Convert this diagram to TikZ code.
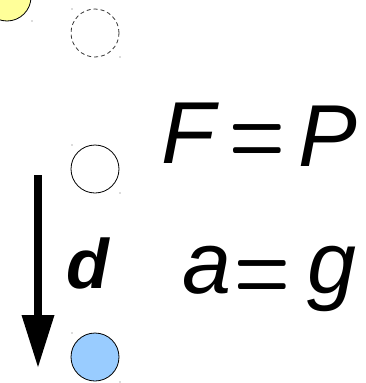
\documentclass[tikz,border=0pt]{standalone}
\usepackage{fontspec}
\newfontfamily\arialfont{Liberation Sans}
\definecolor{sunyellow}{HTML}{FFFF99}
\definecolor{ballblue}{HTML}{99CCFF}
\begin{document}
\begin{tikzpicture}[x=1pt,y=-1pt,
  ball/.style={circle,draw=black,line width=0.8pt,minimum size=48pt,inner sep=0pt},
  handle/.style={circle,fill=black!60,inner sep=0pt,minimum size=1.2pt},
  eq/.style={inner sep=0pt,anchor=base,font=\arialfont\fontsize{88}{88}\selectfont\itshape},
  eqsign/.style={inner sep=0pt,anchor=base,font=\rmfamily\bfseries\fontsize{106}{106}\selectfont},
]
\useasboundingbox (0,0) rectangle (366,383);
% balls
\node[ball,fill=sunyellow] (sun) at (7,-3) {};
\node[ball,draw=black!80,dashed,dash pattern=on 4pt off 3pt] (ghost) at (95,33) {};
\node[ball,fill=white] (start) at (95,169) {};
\node[ball,fill=ballblue] (end) at (95,357) {};
% selection handles
\node[handle] (h0) at (32,21) {};
\node[handle] (h1) at (72,9) {};
\node[handle] (h2) at (120,57) {};
\node[handle] (h3) at (72,145) {};
\node[handle] (h4) at (120,193) {};
\node[handle] (h5) at (72,333) {};
\node[handle] (h6) at (120,382) {};
% arrow
\coordinate (atop) at (38,175);
\coordinate (abase) at (38,316);
\coordinate (atip) at (38,367);
\draw[line width=8pt] (atop) -- (abase);
\fill (21.5,315) -- (54.5,315) -- (atip) -- cycle;
\node[inner sep=0pt,anchor=base,font=\arialfont\fontsize{70}{70}\selectfont\bfseries\itshape] (d) at (88,288) {d};
% equations
\node[eq] (F) at (188,163) {F};
\node[eqsign] (eq1) at (257,165.3) {\scalebox{0.6}[1]{=}};
\node[eq] (P) at (328,166) {P};
\node[eq] (a) at (207,293) {a};
\node[eqsign] (eq2) at (262.8,301.7) {\scalebox{0.6}[1]{=}};
\node[eq] (g) at (332,293) {g};
\end{tikzpicture}
\end{document}
